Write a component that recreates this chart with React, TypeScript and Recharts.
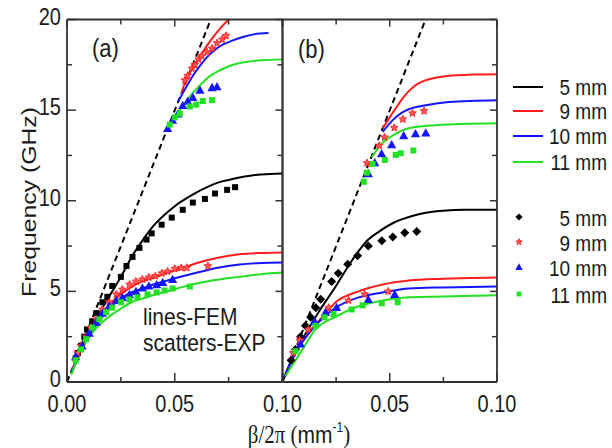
import React from 'react'
import { ComposedChart, Line, Scatter, XAxis, YAxis } from 'recharts'

type Pt = [number, number]

// ─── Data: β/2π (mm⁻¹) vs frequency (GHz) ─────────────────────────────────────

const lightLine: Pt[] = [[0, 0], [0.0667, 20]]

// panel (a), FEM lines, lower band
const femA5: Pt[] = [[0.002, 0.5], [0.005, 1.3], [0.01, 2.6], [0.015, 3.8], [0.02, 4.8], [0.025, 5.8], [0.03, 6.9], [0.035, 7.8], [0.04, 8.6], [0.045, 9.2], [0.05, 9.7], [0.055, 10.1], [0.06, 10.45], [0.065, 10.75], [0.07, 11.0], [0.075, 11.15], [0.08, 11.28], [0.085, 11.38], [0.09, 11.45], [0.1, 11.5]]
const femA9: Pt[] = [[0.002, 0.55], [0.005, 1.45], [0.01, 2.65], [0.015, 3.6], [0.02, 4.3], [0.025, 4.85], [0.03, 5.25], [0.035, 5.55], [0.04, 5.75], [0.045, 5.95], [0.05, 6.15], [0.055, 6.35], [0.06, 6.55], [0.065, 6.72], [0.07, 6.86], [0.075, 6.97], [0.08, 7.05], [0.09, 7.12], [0.1, 7.15]]
const femA10: Pt[] = [[0.002, 0.5], [0.005, 1.35], [0.01, 2.5], [0.015, 3.4], [0.02, 4.1], [0.025, 4.6], [0.03, 4.95], [0.035, 5.15], [0.04, 5.38], [0.045, 5.55], [0.05, 5.72], [0.055, 5.88], [0.06, 6.03], [0.065, 6.17], [0.07, 6.3], [0.08, 6.48], [0.09, 6.57], [0.1, 6.6]]
const femA11: Pt[] = [[0.002, 0.4], [0.006, 1.6], [0.012, 2.75], [0.02, 3.65], [0.025, 4.05], [0.03, 4.4], [0.035, 4.6], [0.043, 4.9], [0.05, 5.12], [0.058, 5.38], [0.065, 5.55], [0.072, 5.68], [0.08, 5.8], [0.09, 5.95], [0.1, 6.04]]
// panel (a), FEM lines, upper band
const femA9up: Pt[] = [[0.053, 15.9], [0.055, 16.6], [0.06, 17.6], [0.063, 18.2], [0.067, 18.9], [0.071, 19.5], [0.075, 20.0]]
const femA10up: Pt[] = [[0.0514, 15.45], [0.055, 16.2], [0.0584, 16.9], [0.062, 17.5], [0.066, 18.05], [0.07, 18.45], [0.077, 18.85], [0.082, 19.05], [0.0866, 19.18], [0.0935, 19.25]]
const femA11up: Pt[] = [[0.0467, 14.0], [0.0495, 14.55], [0.0523, 15.0], [0.0584, 15.95], [0.062, 16.4], [0.066, 16.85], [0.071, 17.2], [0.077, 17.5], [0.083, 17.65], [0.09, 17.75], [0.1, 17.8]]

// panel (a), measured points
const expA5: Pt[] = [[0.004, 1.3], [0.005, 1.6], [0.0065, 2.0], [0.008, 2.5], [0.0093, 2.9], [0.0117, 3.35], [0.0136, 3.8], [0.0164, 4.4], [0.0187, 4.7], [0.021, 5.3], [0.025, 5.8], [0.0276, 6.4], [0.0304, 6.9], [0.0336, 7.4], [0.0369, 7.86], [0.0393, 8.2], [0.0439, 8.68], [0.0486, 9.07], [0.0537, 9.5], [0.0584, 9.9], [0.064, 10.1], [0.0687, 10.4], [0.0743, 10.6], [0.078, 10.75]]
const expA9: Pt[] = [[0.005, 1.6], [0.0065, 2.0], [0.0089, 2.5], [0.011, 3.0], [0.0136, 3.46], [0.0164, 4.0], [0.0196, 4.4], [0.0229, 4.84], [0.0257, 5.1], [0.029, 5.38], [0.032, 5.55], [0.035, 5.66], [0.038, 5.77], [0.041, 5.85], [0.044, 6.0], [0.0467, 6.1], [0.05, 6.25], [0.053, 6.3], [0.0556, 6.3], [0.0654, 6.4]]
const expA10: Pt[] = [[0.004, 1.4], [0.007, 2.0], [0.0103, 2.7], [0.0136, 3.3], [0.0164, 3.8], [0.0196, 4.2], [0.0229, 4.5], [0.0257, 4.67], [0.029, 4.84], [0.032, 5.0], [0.035, 5.2], [0.038, 5.3], [0.0416, 5.38], [0.0444, 5.5], [0.049, 5.66]]
const expA11: Pt[] = [[0.004, 1.2], [0.0065, 1.8], [0.0089, 2.36], [0.0117, 3.0], [0.015, 3.46], [0.0182, 3.85], [0.021, 4.1], [0.025, 4.4], [0.029, 4.56], [0.0327, 4.67], [0.0374, 4.84], [0.0416, 4.94], [0.0453, 5.05], [0.049, 5.16], [0.057, 5.27]]
const expA9up: Pt[] = [[0.0547, 16.65], [0.056, 16.9], [0.058, 17.3], [0.0593, 17.5], [0.061, 17.8], [0.0625, 18.0], [0.065, 18.2], [0.0673, 18.4], [0.0696, 18.7], [0.072, 18.9], [0.0738, 19.1]]
const expA10up: Pt[] = [[0.0467, 14.0], [0.049, 14.45], [0.0514, 14.8], [0.0537, 15.27], [0.056, 15.5], [0.0584, 15.7], [0.0617, 16.1], [0.0673, 16.25], [0.0696, 16.3]]
const expA11up: Pt[] = [[0.0477, 14.2], [0.05, 14.6], [0.0523, 14.8], [0.057, 15.2], [0.06, 15.3], [0.063, 15.5], [0.0673, 15.55]]

// panel (b), FEM lines
const femB5: Pt[] = [[0.001, 0.3], [0.003, 0.9], [0.0093, 2.36], [0.0168, 3.85], [0.0248, 5.27], [0.0327, 6.76], [0.04, 7.86], [0.045, 8.3], [0.052, 8.8], [0.0589, 9.1], [0.065, 9.3], [0.0748, 9.45], [0.085, 9.5], [0.1, 9.5]]
const femB9: Pt[] = [[0.001, 0.3], [0.006, 1.6], [0.0121, 2.7], [0.0187, 3.6], [0.0248, 4.4], [0.0355, 5.0], [0.0467, 5.38], [0.0589, 5.6], [0.0748, 5.7], [0.1, 5.77]]
const femB10: Pt[] = [[0.001, 0.3], [0.006, 1.6], [0.0121, 2.65], [0.0168, 3.3], [0.0248, 4.1], [0.0355, 4.67], [0.0467, 4.94], [0.0589, 5.16], [0.0748, 5.22], [0.1, 5.27]]
const femB11: Pt[] = [[0.0014, 0.33], [0.0093, 1.8], [0.0154, 2.9], [0.0248, 3.6], [0.0355, 4.18], [0.0467, 4.5], [0.0589, 4.68], [0.0748, 4.72], [0.1, 4.78]]
const femB9up: Pt[] = [[0.0467, 14.0], [0.05, 14.6], [0.0528, 15.1], [0.056, 15.65], [0.0589, 16.05], [0.063, 16.45], [0.0668, 16.65], [0.072, 16.8], [0.0776, 16.9], [0.088, 16.96], [0.1, 16.98]]
const femB10up: Pt[] = [[0.0467, 13.8], [0.0514, 14.45], [0.0555, 14.85], [0.0589, 15.05], [0.0668, 15.27], [0.0776, 15.45], [0.1, 15.55]]
const femB11up: Pt[] = [[0.0416, 12.4], [0.0467, 13.2], [0.0514, 13.6], [0.0589, 14.0], [0.0715, 14.17], [0.1, 14.27]]

// panel (b), measured points
const expB5: Pt[] = [[0.004, 1.2], [0.006, 1.8], [0.0084, 2.5], [0.0107, 3.1], [0.0131, 3.57], [0.0155, 4.1], [0.0178, 4.56], [0.0229, 5.55], [0.026, 6.0], [0.0304, 6.5], [0.035, 6.97], [0.04, 7.5], [0.0463, 7.8], [0.0514, 8.0], [0.057, 8.24], [0.0626, 8.3]]
const expB9: Pt[] = [[0.005, 1.6], [0.008, 2.3], [0.0121, 2.9], [0.0215, 4.1], [0.0308, 4.5], [0.0383, 4.84], [0.0493, 5.0]]
const expB10: Pt[] = [[0.0084, 2.1], [0.015, 3.35], [0.02, 3.85], [0.0252, 4.12], [0.04, 4.56], [0.0523, 4.84]]
const expB11: Pt[] = [[0.006, 1.7], [0.0154, 3.1], [0.0196, 3.57], [0.0238, 3.74], [0.0322, 4.0], [0.0374, 4.23], [0.0463, 4.34], [0.0537, 4.4]]
const expB9up: Pt[] = [[0.0394, 12.08], [0.0451, 13.04], [0.0476, 13.5], [0.0521, 14.03], [0.0561, 14.5], [0.0606, 14.83], [0.066, 14.95]]
const expB10up: Pt[] = [[0.04, 11.5], [0.043, 12.1], [0.0462, 12.6], [0.0509, 13.1], [0.0565, 13.6], [0.062, 13.7], [0.0668, 13.75]]
const expB11up: Pt[] = [[0.0379, 11.05], [0.0393, 11.55], [0.042, 12.03], [0.0477, 12.25], [0.0528, 12.53], [0.0551, 12.62], [0.061, 12.77]]

const xTicks = [0, 0.025, 0.05, 0.075, 0.1]
const yTicks = [0, 2.5, 5, 7.5, 10, 12.5, 15, 17.5, 20]
const sizes = ['5 mm', '9 mm', '10 mm', '11 mm']

// ─── Styling ──────────────────────────────────────────────────────────────────

const SANS = '"Liberation Sans", Arial, sans-serif'
const SERIF = '"Liberation Serif", "Times New Roman", serif'
const STRETCH = 1.18
const AXIS = '#333'
const TEXT = '#1a1a1a'
const BLACK = '#000'
const RED = '#ff1c1c'
const BLUE = '#1414ff'
const GREEN = '#22e022'
const COLORS = [BLACK, RED, BLUE, GREEN]

type Kind = 'square' | 'diamond' | 'star' | 'triangle'
const KINDS: Kind[] = ['diamond', 'star', 'triangle', 'square']

function starPoints(cx: number, cy: number, R: number, r: number) {
  const pts: string[] = []
  for (let i = 0; i < 10; i++) {
    const a = -Math.PI / 2 + (i * Math.PI) / 5
    const rad = i % 2 === 0 ? R : r
    pts.push(`${cx + rad * Math.cos(a)},${cy + rad * Math.sin(a)}`)
  }
  return pts.join(' ')
}

function Marker({ kind, color, cx, cy, s = 1 }: { kind: Kind; color: string; cx: number; cy: number; s?: number }) {
  if (kind === 'square') {
    const w = 6 * s
    return <rect x={cx - w / 2} y={cy - w / 2} width={w} height={w} fill={color} />
  }
  if (kind === 'diamond') {
    const r = 4.5 * s
    return <polygon points={`${cx},${cy - r} ${cx + r},${cy} ${cx},${cy + r} ${cx - r},${cy}`} fill={color} />
  }
  if (kind === 'triangle') {
    const r = 4.6 * s
    return <polygon points={`${cx},${cy - r} ${cx + r},${cy + r * 0.8} ${cx - r},${cy + r * 0.8}`} fill={color} />
  }
  return <polygon points={starPoints(cx, cy, 4 * s, 1.8 * s)} fill="#ff5a5a" stroke={color} strokeWidth={0.9} />
}

const shapeOf = (kind: Kind, color: string) => (p: any) => <Marker kind={kind} color={color} cx={p.cx} cy={p.cy} />

function SText({ x, y, size, anchor = 'start', rotate = false, family = SANS, children }: {
  x: number; y: number; size: number; anchor?: 'start' | 'middle' | 'end'; rotate?: boolean; family?: string; children: React.ReactNode
}) {
  const t = `translate(${x},${y}) scale(1,${STRETCH})${rotate ? ' rotate(-90)' : ''}`
  return (
    <text transform={t} fontSize={size} fontFamily={family} textAnchor={anchor} fill={TEXT}>
      {children}
    </text>
  )
}

// ─── Ticks (inward, major/minor) ─────────────────────────────────────────────

const isMajor = (v: number, step: number) => Math.abs(v / step - Math.round(v / step)) < 1e-6

function tickRenderer(side: 'bottom' | 'top' | 'left' | 'right', label?: (v: number) => string | null) {
  return (p: any) => {
    const v = p.payload.value
    const horizontal = side === 'bottom' || side === 'top'
    const major = isMajor(v, horizontal ? 0.05 : 5)
    const outer = side === 'bottom' || side === 'left'
    const len = outer ? (major ? 9 : 5) : (major ? 7 : 5)
    let x2 = p.x, y2 = p.y
    if (side === 'bottom') y2 = p.y - len
    if (side === 'top') y2 = p.y + len
    if (side === 'left') x2 = p.x + len
    if (side === 'right') x2 = p.x - len
    const text = label ? label(v) : null
    return (
      <g>
        <line x1={p.x} y1={p.y} x2={x2} y2={y2} stroke={AXIS} strokeWidth={1.5} />
        {text && side === 'bottom' && <SText x={p.x} y={p.y + 30} size={20} anchor="middle">{text}</SText>}
        {text && side === 'left' && <SText x={p.x - 6} y={p.y + 5} size={20} anchor="end">{text}</SText>}
      </g>
    )
  }
}

const fmtXA = (v: number) => (isMajor(v, 0.05) ? v.toFixed(2) : null)
const fmtXB = (v: number) => (isMajor(v, 0.05) && v > 0 ? v.toFixed(2) : null)
const fmtY = (v: number) => (isMajor(v, 5) ? String(v) : null)

const toXY = (pts: Pt[]) => pts.map(([x, y]) => ({ x, y }))

// ─── Panel ────────────────────────────────────────────────────────────────────

interface PanelProps {
  id: 'a' | 'b'
  fem: Pt[][]
  femUp: Pt[][]
  exp: Pt[][]
  expUp: Pt[][]
}

function Panel({ id, fem, femUp, exp, expUp }: PanelProps) {
  // axes take 1px each, so the plot box is 67..282.5 / 282.5..497 by 19.5..382
  const margin = id === 'a'
    ? { top: 18.5, right: 328.5, bottom: 65, left: 66 }
    : { top: 18.5, right: 114, bottom: 65, left: 281.5 }
  const axisLine = { stroke: AXIS, strokeWidth: 1.8 }
  return (
    <div style={{ position: 'absolute', left: 0, top: 0 }}>
      <ComposedChart width={612} height={448} margin={margin}>
        <XAxis xAxisId={0} type="number" dataKey="x" domain={[0, 0.1]} ticks={xTicks} interval={0}
          height={1} tickSize={0} tickMargin={0} tickLine={false} axisLine={axisLine} allowDataOverflow
          tick={tickRenderer('bottom', id === 'a' ? fmtXA : fmtXB)} />
        <XAxis xAxisId="t" orientation="top" type="number" dataKey="x" domain={[0, 0.1]} ticks={xTicks} interval={0}
          height={1} tickSize={0} tickMargin={0} tickLine={false} axisLine={axisLine} allowDataOverflow
          tick={tickRenderer('top')} />
        <YAxis yAxisId={0} type="number" dataKey="y" domain={[0, 20]} ticks={yTicks} interval={0}
          width={1} tickSize={0} tickMargin={0} tickLine={false} axisLine={axisLine} allowDataOverflow
          tick={id === 'a' ? tickRenderer('left', fmtY) : false} />
        <YAxis yAxisId="r" orientation="right" type="number" dataKey="y" domain={[0, 20]} ticks={yTicks} interval={0}
          width={1} tickSize={0} tickMargin={0} tickLine={false} axisLine={axisLine} allowDataOverflow
          tick={tickRenderer('right')} />

        <Line data={toXY(lightLine)} dataKey="y" type="linear" stroke={BLACK} strokeWidth={2}
          strokeDasharray="6 4" dot={false} activeDot={false} isAnimationActive={false} />

        {[...fem, ...femUp].map((pts, i) => (
          <Line key={`fem-${i}`} data={toXY(pts)} dataKey="y" type="monotone" stroke={COLORS[i % 4]}
            strokeWidth={2} dot={false} activeDot={false} isAnimationActive={false} />
        ))}

        {[...exp, ...expUp].map((pts, i) => (
          <Scatter key={`exp-${i}`} data={toXY(pts)} dataKey="y" fill={COLORS[i % 4]}
            shape={shapeOf(id === 'a' && i % 4 === 0 ? 'square' : KINDS[i % 4], COLORS[i % 4])}
            isAnimationActive={false} />
        ))}
      </ComposedChart>
    </div>
  )
}

// ─── App ──────────────────────────────────────────────────────────────────────

export default function App() {
  const lineRows = [87, 111, 136, 162]
  const markRows = [218, 243, 268, 295]
  return (
    <div style={{ position: 'absolute', left: 0, top: 0, width: 612, height: 448, background: '#fff' }}>
      <Panel id="a" fem={[femA5, femA9, femA10, femA11]} femUp={[[], femA9up, femA10up, femA11up]}
        exp={[expA5, expA9, expA10, expA11]} expUp={[[], expA9up, expA10up, expA11up]} />
      <Panel id="b" fem={[femB5, femB9, femB10, femB11]} femUp={[[], femB9up, femB10up, femB11up]}
        exp={[expB5, expB9, expB10, expB11]} expUp={[[], expB9up, expB10up, expB11up]} />

      <svg width={612} height={448} style={{ position: 'absolute', left: 0, top: 0, pointerEvents: 'none' }}>
        <SText x={92} y={57} size={22}>(a)</SText>
        <SText x={298} y={58} size={22}>(b)</SText>
        <SText x={143} y={325} size={21}>lines-FEM</SText>
        <SText x={143} y={351} size={21}>scatters-EXP</SText>

        <SText x={36} y={202} size={21} anchor="middle" rotate>Frequency (GHz)</SText>
        <SText x={299} y={443} size={21} anchor="middle" family={SERIF}>
          β/2π (<tspan fontFamily={SANS}>mm</tspan>
          <tspan fontFamily={SANS} fontSize={12} dy={-9}>-1</tspan>
          <tspan dy={9}>)</tspan>
        </SText>

        {sizes.map((s, i) => (
          <g key={`ll-${s}`}>
            <line x1={513} x2={543} y1={lineRows[i]} y2={lineRows[i]} stroke={COLORS[i]} strokeWidth={2} />
            <SText x={607} y={lineRows[i] + 8} size={19} anchor="end">{s}</SText>
          </g>
        ))}
        {sizes.map((s, i) => (
          <g key={`ml-${s}`}>
            <Marker kind={KINDS[i]} color={COLORS[i]} cx={519} cy={markRows[i] - 1} s={0.8} />
            <SText x={607} y={markRows[i] + 8} size={19} anchor="end">{s}</SText>
          </g>
        ))}
      </svg>
    </div>
  )
}
